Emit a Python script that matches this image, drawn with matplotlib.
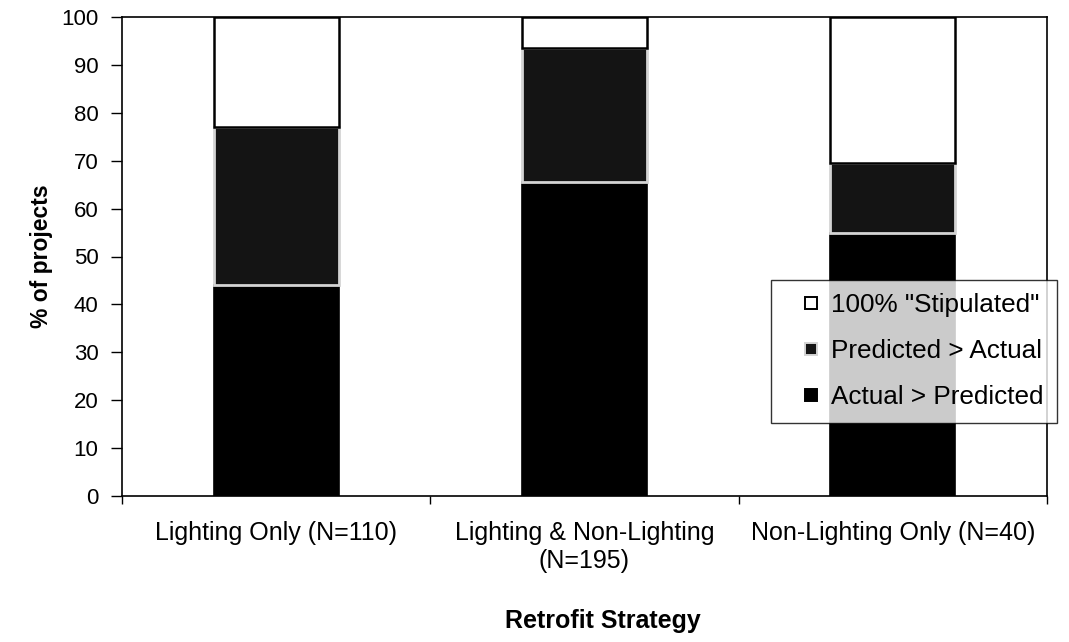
import numpy as np
import matplotlib
matplotlib.use("Agg")
import matplotlib.pyplot as plt
from matplotlib.patches import Rectangle
from matplotlib.legend_handler import HandlerPatch

plt.rcParams["font.family"] = ["Liberation Sans", "DejaVu Sans"]

categories = ["Lighting Only (N=110)", "Lighting & Non-Lighting\n(N=195)", "Non-Lighting Only (N=40)"]
actual_gt_pred = [44.0, 65.5, 55.0]
pred_gt_actual = [33.0, 28.0, 14.5]
stipulated = [23.0, 6.5, 30.5]


class SquareHandler(HandlerPatch):
    # small square at the right end of the handle box
    def create_artists(self, legend, orig_handle, xdescent, ydescent,
                       width, height, fontsize, trans):
        side = 0.45 * fontsize
        p = Rectangle((width - side - xdescent, (height - side) / 2 - ydescent), side, side,
                      facecolor=orig_handle.get_facecolor(),
                      edgecolor=orig_handle.get_edgecolor(), linewidth=1.4,
                      transform=trans)
        return [p]


fig = plt.figure(figsize=(10.69, 6.42), dpi=100)
ax = fig.add_axes([122 / 1069, 1 - 496 / 642, (1047 - 122) / 1069, (496 - 17) / 642])

x = np.arange(len(categories))
w = 0.405
b1 = ax.bar(x, actual_gt_pred, w, color="black", edgecolor="black", linewidth=1.2,
            label="Actual > Predicted")
b2 = ax.bar(x, pred_gt_actual, w, bottom=actual_gt_pred, color="#141414",
            edgecolor="#d4d4d4", linewidth=2.0, label="Predicted > Actual")
bottom3 = np.array(actual_gt_pred) + np.array(pred_gt_actual)
b3 = ax.bar(x, stipulated, w, bottom=bottom3, color="white", edgecolor="black",
            linewidth=1.8, label='100% "Stipulated"')

ax.set_xlim(-0.5, len(categories) - 0.5)
ax.set_ylim(0, 100)
ax.set_yticks(np.arange(0, 101, 10))
ax.set_xticks(x)
ax.set_xticklabels(categories, fontsize=18, linespacing=1.2)
ax.tick_params(axis="x", length=0, pad=18)
ax.set_xticks(np.arange(-0.5, len(categories), 1), minor=True)
ax.tick_params(axis="x", which="minor", length=6, direction="out", width=1)
ax.tick_params(axis="y", labelsize=16, length=8, width=1, direction="out", pad=9)

for s in ax.spines.values():
    s.set_linewidth(1.2)
    s.set_color("black")

ax.set_ylabel("% of projects", fontsize=16.5, fontweight="bold", labelpad=6)
ax.set_xlabel("Retrofit Strategy", fontsize=18, fontweight="bold", labelpad=26)
ax.xaxis.set_label_coords(0.52, -0.235)

handles = [b3[0], b2[0], b1[0]]
labels = ['100% "Stipulated"', "Predicted > Actual", "Actual > Predicted"]
leg = fig.legend(handles, labels, loc="upper left",
                 bbox_to_anchor=(771 / 1069, 1 - 280 / 642), fontsize=18.8,
                 frameon=True, fancybox=False, shadow=False, borderaxespad=0,
                 handlelength=1.25, handleheight=0.7, handletextpad=0.55,
                 labelspacing=0.85, borderpad=0.5,
                 handler_map={Rectangle: SquareHandler()})
leg.get_frame().set_edgecolor("black")
leg.get_frame().set_linewidth(1.0)

fig.savefig("out.png", dpi=100)
